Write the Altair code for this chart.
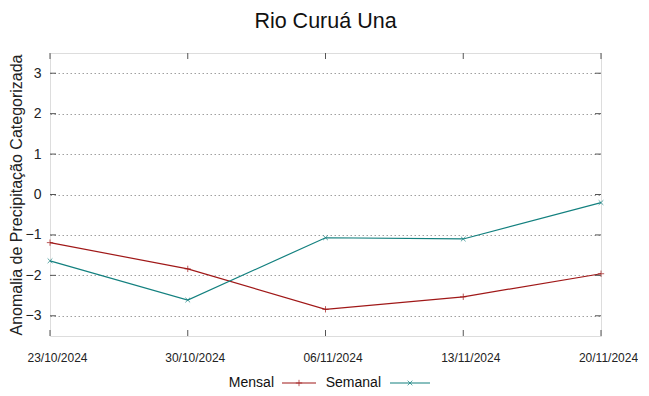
import altair as alt
import pandas as pd

dates = ["23/10/2024", "30/10/2024", "06/11/2024", "13/11/2024", "20/11/2024"]
mensal = [-1.19, -1.84, -2.84, -2.53, -1.96]
semanal = [-1.64, -2.61, -1.07, -1.10, -0.20]
y_ticks = [-3, -2, -1, 0, 1, 2, 3]
series = ["Mensal", "Semanal"]
colors = ["#a01818", "#13807f"]

W, H = 551, 283
FONT = "Liberation Sans"

rows = []
for d, m, s in zip(dates, mensal, semanal):
    rows.append({"date": d, "serie": "Mensal", "v": m})
    rows.append({"date": d, "serie": "Semanal", "v": s})
df = pd.DataFrame(rows)

plus_path = "M-1,0L1,0M0,-1L0,1"
cross_path = "M-1,-1L1,1M-1,1L1,-1"

x_enc = alt.X("date:N", sort=dates,
              scale=alt.Scale(type="point", padding=0, domain=dates),
              axis=alt.Axis(title=None, labelAngle=0, ticks=False, domain=False,
                            labelPadding=16, labelFontSize=12, labelOffset=7,
                            labelFont=FONT, labelColor="#222"))
y_enc = alt.Y("v:Q", scale=alt.Scale(domain=[-3.5, 3.5], nice=False, zero=False),
              axis=alt.Axis(values=y_ticks, title="Anomalia de Precipitação Categorizada",
                            titleFontSize=16, titleFontWeight="normal", titleColor="#222",
                            titleFont=FONT, titlePadding=1,
                            labelFontSize=14, labelColor="#222", labelFont=FONT,
                            labelPadding=9, ticks=False, domain=False,
                            grid=True, gridDash=[1.5, 2.5], gridColor="#a0a0a0", gridWidth=1))

color_scale = alt.Scale(domain=series, range=colors)

lines = alt.Chart(df).mark_line(strokeWidth=1.2).encode(
    x=x_enc, y=y_enc,
    color=alt.Color("serie:N", scale=color_scale, legend=None),
    detail="serie:N",
)

pts_m = alt.Chart(df[df.serie == "Mensal"]).mark_point(
    shape=plus_path, size=40, filled=False, strokeWidth=1, color=colors[0]
).encode(x=alt.X("date:N", sort=dates), y="v:Q")
pts_s = alt.Chart(df[df.serie == "Semanal"]).mark_point(
    shape=cross_path, size=22, filled=False, strokeWidth=1, color=colors[1]
).encode(x=alt.X("date:N", sort=dates), y="v:Q")

# inward tick marks
ydf = pd.DataFrame({"v": y_ticks})
xdf = pd.DataFrame({"date": dates})
tick_col = "#555"
yt_l = alt.Chart(ydf).mark_rule(color=tick_col, strokeWidth=1).encode(
    y="v:Q", x=alt.value(0), x2=alt.value(6))
yt_r = alt.Chart(ydf).mark_rule(color=tick_col, strokeWidth=1).encode(
    y="v:Q", x=alt.value(W - 6), x2=alt.value(W))
xt_b = alt.Chart(xdf).mark_rule(color=tick_col, strokeWidth=1).encode(
    x=alt.X("date:N", sort=dates), y=alt.value(H), y2=alt.value(H - 6))
xt_t = alt.Chart(xdf).mark_rule(color=tick_col, strokeWidth=1).encode(
    x=alt.X("date:N", sort=dates), y=alt.value(0), y2=alt.value(6))

# custom legend (label before symbol)
leg_y = H + 47
one = pd.DataFrame({"a": [0]})
leg = []
leg_specs = [
    ("Mensal", 224, 232, 266, plus_path, 40),
    ("Semanal", 331, 340, 380, cross_path, 22),
]
for (name, tx, l0, l1, shp, sz), col in zip(leg_specs, colors):
    leg.append(alt.Chart(one).mark_text(
        text=name, align="right", baseline="middle", fontSize=14,
        font=FONT, color="#111"
    ).encode(x=alt.value(tx), y=alt.value(leg_y)))
    leg.append(alt.Chart(one).mark_rule(color=col, strokeWidth=1.2).encode(
        x=alt.value(l0), x2=alt.value(l1), y=alt.value(leg_y)))
    leg.append(alt.Chart(one).mark_point(
        shape=shp, size=sz, filled=False, strokeWidth=1, color=col
    ).encode(x=alt.value((l0 + l1) / 2), y=alt.value(leg_y)))

chart = alt.layer(lines, pts_m, pts_s, yt_l, yt_r, xt_b, xt_t, *leg).properties(
    width=W, height=H,
    padding={"left": 0, "top": 3, "right": 0, "bottom": 0},
    title=alt.TitleParams("Rio Curuá Una", fontSize=21.5, font=FONT,
                          fontWeight="normal", color="#111", anchor="middle", offset=20),
).configure_view(stroke="#555", strokeWidth=1.5).configure(background="white")

chart.save("out.html", embed_options={"renderer": "svg", "actions": False})
